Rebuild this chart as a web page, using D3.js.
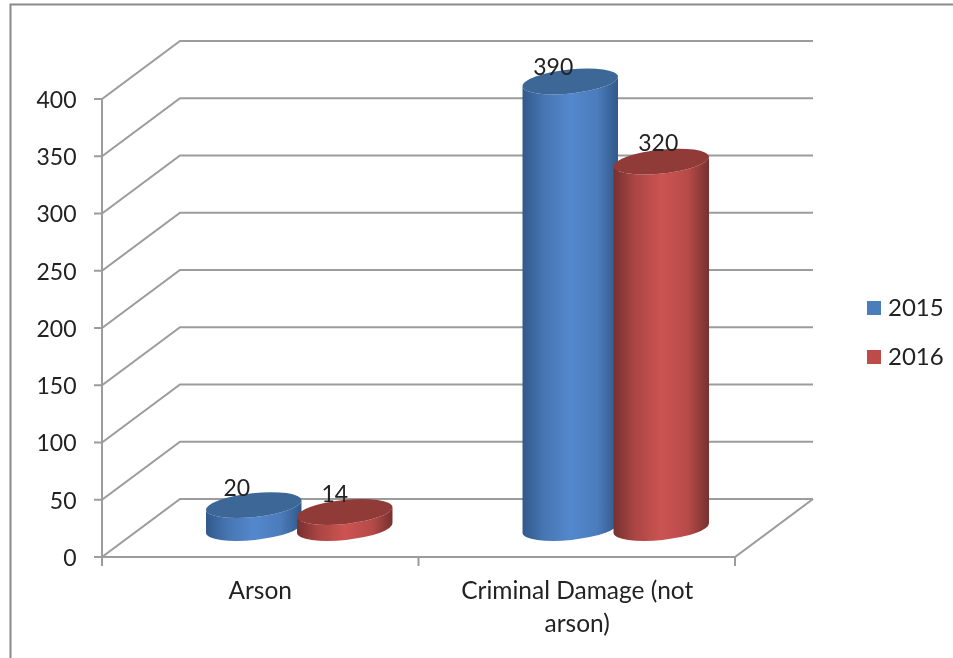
<!DOCTYPE html>
<html><head><meta charset="utf-8">
<script src="https://cdn.jsdelivr.net/npm/d3@7"></script>
<style>html,body{margin:0;padding:0;background:#fff;overflow:hidden}svg{display:block;filter:blur(0.55px)}text{font-family:Lato,"Open Sans",sans-serif;fill:#222}</style>
</head><body><div id="chart"></div>
<script>
const categories = ["Arson", "Criminal Damage (not arson)"];
const categoryLines = [["Arson"], ["Criminal Damage (not", "arson)"]];
const seriesNames = ["2015", "2016"];
const values2015 = [20, 390];
const values2016 = [14, 320];
const yTicks = [0, 50, 100, 150, 200, 250, 300, 350, 400];
const seriesSide = ["#3c6796", "#903b38"];
const seriesEdge = ["#31598a", "#76312f"];
const seriesMid = ["#5488cd", "#cc5351"];
const legendColors = ["#4a7ebb", "#be4b48"];
const labelNudges = [[[-17,-15],[-17,-12]], [[-10,-16],[-3,-16]]];

const W = 953, H = 658, depthX = 78, depthY = 58;
const svg = d3.select("#chart").append("svg").attr("width", W).attr("height", H);
const x = d3.scaleBand().domain(categories).range([102, 735]);
const y = d3.scaleLinear().domain([0, 400]).range([557, 99]);
const grey = "#9c9c9c";

svg.append("path").attr("d", `M10.5,${H}V4.5H${W}`).attr("fill","none").attr("stroke","#8a8a8a").attr("stroke-width",2);

const defs = svg.append("defs");
seriesNames.forEach((s,i)=>{
  const g = defs.append("linearGradient").attr("id","grad"+i);
  [[0,seriesEdge[i]],[0.22,d3.interpolateRgb(seriesEdge[i],seriesMid[i])(0.6)],[0.5,seriesMid[i]],[0.78,d3.interpolateRgb(seriesEdge[i],seriesMid[i])(0.75)],[1,seriesEdge[i]]]
    .forEach(([o,c])=>g.append("stop").attr("offset",o).attr("stop-color",c));
});

// grid, walls, floor
const grid = svg.append("g").attr("fill","none").attr("stroke",grey).attr("stroke-width",2);
yTicks.forEach(t=>{
  const py = y(t);
  grid.append("path").attr("d",`M94,${py}H102L${102+depthX},${py-depthY}H${735+depthX}`);
});
grid.append("path").attr("d",`M102,${y(400)}V${y(0)+9}`);
grid.append("path").attr("d",`M102,${y(0)}H735L${735+depthX},${y(0)-depthY}`);
[x.range()[0]+x.step(), x.range()[1]].forEach(px=>grid.append("path").attr("d",`M${px},${y(0)}V${y(0)+9}`));

// y labels
svg.append("g").selectAll("text").data(yTicks).join("text")
  .attr("x",76.5).attr("y",d=>y(d)+3).attr("text-anchor","end").attr("dominant-baseline","middle")
  .attr("font-size",23).text(d=>d);

// category labels
const cx = c => x(c)+x.bandwidth()/2;
categoryLines.forEach((lines,i)=>lines.forEach((l,j)=>{
  svg.append("text").attr("x",cx(categories[i])-(i?-0.5:0)).attr("y",599+j*33).attr("text-anchor","middle")
    .attr("font-size",24.5).text(l);
}));

// cylinders
const rx = 48, ry = 12, tilt = -6, seriesGap = 45.5;
const a = tilt*Math.PI/180, ex = rx*Math.cos(a), ey = rx*Math.sin(a);
const series = [values2015, values2016];
const baseY = y(0)-depthY/2;
const unit = y(0)-y(1);
categories.forEach((c,ci)=>{
  series.forEach((vals,si)=>{
    const cxx = cx(c)+depthX/2+(si?seriesGap:-seriesGap);
    const top = baseY-vals[ci]*unit;
    const g = svg.append("g");
    g.append("path").attr("fill",`url(#grad${si})`)
      .attr("d",`M${cxx-ex},${top-ey}L${cxx-ex},${baseY-ey}A${rx},${ry},${tilt},0,0,${cxx+ex},${baseY+ey}L${cxx+ex},${top+ey}A${rx},${ry},${tilt},0,1,${cxx-ex},${top-ey}Z`);
    g.append("ellipse").attr("cx",cxx).attr("cy",top).attr("rx",rx).attr("ry",ry)
      .attr("transform",`rotate(${tilt},${cxx},${top})`).attr("fill",seriesSide[si]);
  });
});
// data labels drawn first in the reference are overlapped by the cylinder tops
categories.forEach((c,ci)=>{
  series.forEach((vals,si)=>{
    const cxx = cx(c)+depthX/2+(si?seriesGap:-seriesGap);
    const top = baseY-vals[ci]*unit;
    const n = labelNudges[si][ci];
    svg.append("text").attr("x",cxx+n[0]).attr("y",top+n[1]).attr("text-anchor","middle").attr("dominant-baseline","middle")
      .attr("font-size",23).text(vals[ci]);
  });
});

// legend
seriesNames.forEach((s,i)=>{
  const ly = 308+i*49;
  svg.append("rect").attr("x",867).attr("y",ly-7).attr("width",14).attr("height",14).attr("fill",legendColors[i]);
  svg.append("text").attr("x",888).attr("y",ly+2).attr("dominant-baseline","middle").attr("font-size",24).text(s);
});
</script></body></html>
